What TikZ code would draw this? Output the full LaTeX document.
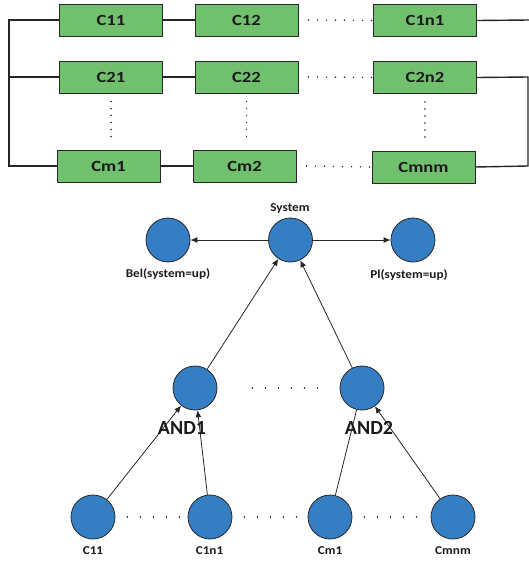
\documentclass[tikz,border=0pt]{standalone}
\usepackage{fontspec}
\setmainfont{Carlito}
\newfontfamily\boxfont[FakeStretch=1.2]{Carlito}
\newfontfamily\labfont[FakeStretch=1.1]{Carlito}
\usetikzlibrary{arrows.meta}
\definecolor{boxgreen}{RGB}{112,192,110}
\definecolor{nodeblue}{RGB}{53,126,195}
\definecolor{edgegray}{RGB}{40,40,40}
\tikzset{
  comp/.style={draw=edgegray, line width=0.9pt, fill=boxgreen, minimum width=103pt, minimum height=32pt, inner sep=0pt, font=\boxfont\fontsize{15.5}{15.5}\selectfont\bfseries, text=black!90},
  circ/.style={circle, draw=edgegray, line width=0.8pt, fill=nodeblue, minimum size=44pt, inner sep=0pt},
  wire/.style={draw=black!85, line width=1.4pt},
  arr/.style={draw=black!85, line width=0.8pt, -{Latex[length=7pt,width=6pt]}},
  plain/.style={draw=black!85, line width=0.8pt},
  dotsh/.style={draw=black!85, line width=1.6pt, dash pattern=on 0.01pt off 9pt, line cap=round},
  dotsv/.style={draw=black!85, line width=1.6pt, dash pattern=on 0.01pt off 7pt, line cap=round},
  dotsw/.style={draw=black!85, line width=1.6pt, dash pattern=on 0.01pt off 13pt, line cap=round},
  lab/.style={font=\labfont\fontsize{12}{12}\selectfont\bfseries, text=black!90, inner sep=0pt},
  andlab/.style={font=\fontsize{20}{20}\selectfont\bfseries, text=black!90, inner sep=0pt}
}
\begin{document}
\begin{tikzpicture}[x=1pt,y=-1pt]
\useasboundingbox (0,0) rectangle (529,565);
% reliability block diagram
\node[comp] (c11) at (111,20) {C11};
\node[comp] (c12) at (246.5,20) {C12};
\node[comp] (c1n) at (425,20.5) {C1n1};
\node[comp] (c21) at (111,77) {C21};
\node[comp] (c22) at (246.5,77) {C22};
\node[comp] (c2n) at (425,77.5) {C2n2};
\node[comp] (cm1) at (108.5,166) {Cm1};
\node[comp] (cm2) at (244.5,166) {Cm2};
\node[comp] (cmn) at (423.5,167) {Cmnm};
\coordinate (lt) at (9,20);
\coordinate (lm) at (9,77);
\coordinate (lb) at (9,166);
\coordinate (rt) at (529,20);
\coordinate (rm) at (528,77);
\coordinate (rb) at (528,166);
\draw[wire] (c11.west) -- (lt) -- (lb) -- (cm1.west);
\draw[wire] (lm) -- (c21.west);
\draw[wire] (c11) -- (c12);
\draw[wire] (c21) -- (c22);
\draw[wire] (cm1) -- (cm2);
\draw[wire] (c1n.east) -- (rt);
\draw[wire] (c2n.east) -- (rm) -- (rb) -- (cmn.east);
\draw[dotsh] ([xshift=10pt]c12.east) -- (c1n.west);
\draw[dotsh] ([xshift=10pt]c22.east) -- (c2n.west);
\draw[dotsh] ([xshift=10pt]cm2.east) -- (cmn.west);
\draw[dotsv] ([yshift=-8pt]c21.south) -- ([yshift=12pt]cm1.north -| c21.south);
\draw[dotsv] ([yshift=-8pt]c22.south) -- ([yshift=12pt]cm2.north -| c22.south);
\draw[dotsv] ([yshift=-8pt]c2n.south) -- ([yshift=12pt]cmn.north -| c2n.south);
% network
\node[circ] (sys) at (290.5,240) {};
\node[circ] (bel) at (168,240) {};
\node[circ] (pl) at (413,240) {};
\node[lab] (syslab) at (290,208.5) {System};
\node[lab] (bellab) at (168,274) {Bel(system=up)};
\node[lab] (pllab) at (409,275) {Pl(system=up)};
\draw[arr] (sys) -- (bel);
\draw[arr] (sys) -- (pl);
\node[circ] (and1) at (195,388) {};
\node[circ] (and2) at (362,388) {};
\draw[arr] (and1) -- (sys);
\draw[arr] (and2) -- (sys);
\node[circ] (b1) at (93,517) {};
\node[circ] (b2) at (210,517) {};
\node[circ] (b3) at (330,517) {};
\node[circ] (b4) at (453,517) {};
\draw[arr] (b1) -- (and1);
\draw[arr] (b2) -- (and1);
\draw[plain] (b3) -- (and2);
\draw[arr] (b4) -- (and2);
\node[andlab] (and1lab) at (182,428) {AND1};
\node[andlab] (and2lab) at (369,428) {AND2};
\draw[dotsw] ([xshift=35pt]and1.east) -- ([xshift=-20pt]and2.west);
\draw[dotsw] ([xshift=12pt]b1.east) -- ([xshift=-4pt]b2.west);
\draw[dotsw] ([xshift=12pt]b2.east) -- ([xshift=-4pt]b3.west);
\draw[dotsw] ([xshift=12pt]b3.east) -- ([xshift=-4pt]b4.west);
\node[lab] (b1lab) at (93,551) {C11};
\node[lab] (b2lab) at (209.5,551) {C1n1};
\node[lab] (b3lab) at (330,551) {Cm1};
\node[lab] (b4lab) at (453,551) {Cmnm};
\end{tikzpicture}
\end{document}
